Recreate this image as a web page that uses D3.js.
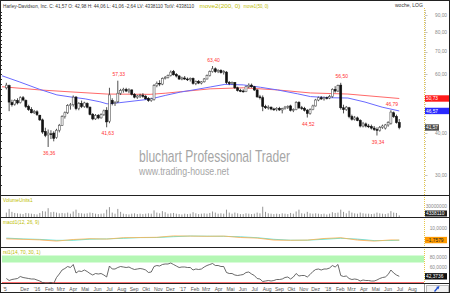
<!DOCTYPE html>
<html>
<head>
<meta charset="utf-8">
<script src="https://cdn.jsdelivr.net/npm/d3@7"></script>
<style>
  html, body { margin: 0; padding: 0; background: #fff; }
  svg { display: block; font-family: "Liberation Sans", Arial, sans-serif; }
</style>
</head>
<body>
<div id="chart"></div>
<script>
// weekly candles, first week starts Mon 2015-10-12
const firstWeek = "2015-10-12";
const opens = [54.6,55.4,49.3,48.8,50.0,49.3,51.0,50.0,48.0,47.0, 46.0,46.3,45.2,43.8,40.4,39.5,39.8,40.0,38.8,40.8,
  42.2,44.8,46.0,48.3,48.6,51.2,47.3,49.0,48.0,49.0, 47.8,45.5,44.1,45.2,44.4,45.4,46.8,43.4,50.0,49.0,
  49.6,52.6,53.6,54.0,53.4,53.8,52.2,51.2,51.6,51.9, 51.5,50.8,50.0,50.4,55.4,56.3,56.0,58.2,58.6,59.4,
  61.0,59.8,59.2,58.0,58.4,58.0,57.8,58.2,56.3,57.0, 56.4,56.9,58.0,59.4,61.0,62.2,61.0,61.5,60.6,60.8,
  56.6,56.2,56.6,54.6,53.6,53.4,53.2,55.0,55.6,55.0, 53.8,51.3,51.0,48.0,47.6,47.8,47.2,47.0,47.4,46.9,
  47.3,47.8,48.2,46.8,47.0,49.4,47.6,47.4,46.8,45.8, 47.0,48.2,50.2,51.0,50.6,51.0,50.9,51.4,54.0,53.4,
  55.6,47.6,47.0,47.6,44.8,44.0,44.4,43.6,42.0,42.6, 42.0,41.8,41.4,41.0,40.8,41.6,41.4,42.3,42.8,46.0,
  44.8,42.98];
const highs = [56.5,55.8,50.3,50.5,50.8,51.5,51.6,50.4,48.6,47.8, 46.9,46.8,45.4,44.2,41.5,41.0,40.8,40.5,41.2,42.6,
  45.2,46.4,48.8,49.2,51.8,51.6,49.5,50.0,49.6,49.4, 48.0,45.9,45.6,45.6,45.8,47.0,47.8,54.6,50.8,49.8,
  57.33,54.2,54.6,54.6,54.4,54.0,52.6,52.0,52.4,52.6, 52.0,51.2,51.0,56.0,57.0,57.5,58.6,59.2,59.8,61.5,
  61.7,60.4,59.6,58.9,59.2,58.6,58.6,58.6,57.4,57.6, 57.2,58.4,59.8,61.5,63.40,62.8,62.0,62.0,61.6,61.2,
  57.2,57.0,56.8,55.0,54.2,54.0,55.4,56.3,56.2,55.3, 54.0,52.0,51.8,48.6,48.4,48.0,47.6,47.8,47.9,47.6,
  48.2,48.4,48.6,47.4,49.8,49.8,48.2,47.9,47.2,47.4, 48.6,50.6,51.4,51.6,51.4,51.4,52.0,54.4,55.2,55.8,
  56.50,48.6,48.2,47.9,45.4,45.0,44.8,44.0,43.2,43.0, 42.6,42.4,42.0,41.6,42.0,42.4,42.6,43.4,46.79,46.4,
  45.4,44.06];
const lows = [54.0,46.5,48.0,48.3,48.7,49.0,49.8,47.5,46.6,45.8, 45.6,45.0,43.5,39.8,38.9,36.36,38.4,37.8,38.5,40.2,
  42.0,44.2,45.6,47.0,48.0,46.8,46.8,47.5,47.6,47.4, 45.2,43.7,43.8,44.0,44.2,45.0,41.63,42.8,48.4,48.2,
  49.2,52.0,52.8,53.0,52.6,51.8,50.8,50.6,50.9,51.0, 50.3,49.6,49.6,50.0,54.8,55.2,55.6,57.8,58.2,59.0,
  59.4,58.6,57.6,57.5,57.6,57.2,57.0,55.8,55.6,56.0, 55.9,56.6,57.8,59.0,60.6,60.5,60.4,60.2,59.8,56.0,
  55.6,55.8,54.2,53.2,53.0,52.8,53.0,54.4,54.6,53.4, 51.0,50.4,46.5,47.2,47.0,46.8,46.6,46.5,46.6,45.8,
  47.0,47.2,46.4,46.2,46.8,47.2,46.9,46.4,44.52,45.4, 46.8,48.0,49.8,50.2,50.0,50.4,50.5,51.0,52.8,53.0,
  47.0,45.8,46.6,44.3,43.6,43.6,43.4,41.6,41.6,41.6, 41.4,41.0,40.6,39.34,40.4,41.2,41.0,41.8,42.4,44.4,
  42.7,41.06];
const closes = [55.6,49.5,48.6,50.0,49.2,51.0,50.2,48.0,47.0,46.0, 46.4,45.4,43.8,40.3,39.4,40.0,39.6,38.6,40.8,42.2,
  44.8,46.0,48.3,48.6,51.2,47.3,49.0,48.0,49.2,47.8, 45.5,44.1,45.2,44.4,45.4,46.6,43.2,52.0,49.0,49.4,
  52.6,53.6,54.0,53.4,53.8,52.2,51.2,51.6,51.9,51.5, 50.6,50.0,50.6,55.4,56.3,56.0,58.2,58.6,59.4,60.8,
  59.7,59.2,58.0,58.4,58.0,57.8,58.2,56.3,57.0,56.4, 56.9,58.0,59.4,61.0,62.2,61.0,61.5,60.6,61.0,56.6,
  56.2,56.6,54.6,53.6,53.4,53.2,55.0,55.6,55.0,53.8, 51.3,51.0,48.0,47.6,47.8,47.2,47.0,47.4,46.9,47.3,
  47.8,48.0,46.8,47.0,49.4,47.6,47.4,46.8,45.8,47.0, 48.2,50.2,51.0,50.6,51.0,50.9,51.4,54.0,53.4,55.4,
  47.6,47.0,47.8,44.8,44.0,44.4,43.6,42.0,42.6,42.0, 41.8,41.4,41.0,40.8,41.6,42.0,42.3,43.0,46.2,44.8,
  43.0,41.57];
// weekly volume, millions of shares
const volumes = [12,22,14,11,10,9,8,11,10,9, 8,7,11,16,15,24,13,14,12,10, 11,10,12,9,15,20,11,10,9,10,
  12,11,9,8,9,10,20,27,12,9, 22,14,9,8,7,9,10,8,9,8, 9,10,9,18,12,10,16,13,9,10,
  11,9,8,7,9,8,9,13,10,8, 9,10,9,11,15,12,9,10,9,20, 12,9,12,10,8,8,10,9,8,9,
  12,10,28,14,10,9,8,9,8,10, 9,8,11,9,15,20,10,9,14,10, 9,10,9,8,9,7,9,13,11,12,
  20,14,10,17,12,10,9,12,10,9, 9,8,9,12,10,9,8,10,16,12, 11,4.34];
const rsiValues = [38,34,36,37,38,42,40,39,38,37, 37,35,33,30,29,29,30,28,40,47,
  55,58,62,60,66,49,53,52,55,52, 48,45,48,47,48,45,41,63,57,57,
  60,62,61,60,61,58,56,57,58,57, 55,50,51,62,64,63,66,67,67,69,
  66,63,60,61,61,60,60,55,57,56, 57,61,64,66,68,64,64,62,62,50,
  48,48,45,44,45,46,50,51,47,44, 38,37,32,33,34,33,34,36,36,37,
  40,41,37,41,48,43,44,44,41,46, 52,56,57,55,57,57,59,64,61,66,
  44,42,43,38,36,37,36,33,35,34, 34,33,33,35,38,40,41,46,55,49,
  45,42.37];

// moving averages
const ma50Dates = ["2015-10-05","2015-11-19","2016-01-08","2016-02-20","2016-03-24","2016-05-01","2016-06-07",
  "2016-06-25","2016-07-27","2016-09-03","2016-10-11","2016-11-18","2016-12-26","2017-02-01","2017-03-11",
  "2017-04-17","2017-06-02","2017-07-15","2017-08-27","2017-10-16","2017-11-18","2018-01-06","2018-02-20",
  "2018-04-04","2018-05-17","2018-06-29"];
const ma50Values = [59.3,56.8,54.0,52.0,51.3,50.6,49.6,48.9,49.3,49.9,50.5,51.8,53.0,53.9,54.9,
  55.9,55.7,54.8,53.8,52.4,51.4,51.0,50.9,49.5,47.8,46.57];
const ma200Dates = ["2015-10-05","2016-01-08","2016-03-24","2016-06-25","2016-10-11","2016-11-18",
  "2017-03-11","2017-06-02","2017-08-27","2017-11-18","2018-02-20","2018-06-29"];
const ma200Values = [55.0,53.8,53.1,52.3,52.2,52.6,54.2,54.6,53.8,52.7,52.3,50.73];

// macd(12,26,9), sampled every 6 weeks
const macdWeeks = [0,6,12,18,24,30,36,42,48,54,60,66,72,78,84,90,96,102,108,114,120,126,132,138,141];
const macdValues = [-0.6,-1.0,-1.6,-2.8,-1.2,-0.4,-0.8,0.6,0.8,1.0,2.4,2.2,2.0,2.2,0.8,0.2,-1.8,-2.0,-1.8,-0.2,0.6,-1.8,-2.8,-1.6,-1.76];
const signalValues = [0.2,-0.6,-1.1,-2.0,-2.0,-0.9,-0.6,0.0,0.7,0.8,1.6,2.3,2.1,2.0,1.5,0.6,-1.0,-1.9,-1.9,-1.0,0.0,-0.8,-2.3,-2.2,-1.9];

// marked extremes (week index, kind)
const extremeWeeks = [15,36,40,74,108,120,133,138];
const extremeKinds = ["low","low","high","high","low","high","low","high"];

const priceTicks = [30,40,50,60,70,80,90];
const monthNames = ["'","Feb","Mrz","Apr","Mai","Jun","Jul","Aug","Sep","Okt","Nov","Dez"];
const firstAxisLabel = "'5";
const headerText = "Harley-Davidson, Inc. C: 41,57 O: 42,98 H: 44,06 L: 41,06 -2,64 LV: 4338110 TotV: 4338110";

const W = 450, H = 293;
const plotL = 2, plotR = 424;
const fmt2 = d3.format(".2f");
const de = v => fmt2(v).replace(".", ",");
const de4 = v => d3.format(".4f")(v).replace(".", ",");

const parse = d3.timeParse("%Y-%m-%d");
const weeks = d3.range(closes.length).map(i => d3.timeDay.offset(parse(firstWeek), 7 * i + 4));
const candles = weeks.map((d, i) => ({date: d, o: opens[i], h: highs[i], l: lows[i], c: closes[i], v: volumes[i], r: rsiValues[i]}));

const x = d3.scaleTime().domain([new Date(2016, 0, 1), new Date(2018, 0, 1)]).range([37, 328]);
const yP = d3.scaleLog().domain([30, 90]).range([175, 15]);
const yV = d3.scaleLinear().domain([0, 30e6]).range([217, 206]);
const yM = d3.scaleLinear().domain([0, 10]).range([238.3, 228.3]);
const yR = d3.scaleLinear().domain([30, 80]).range([282.5, 257.5]);

const svg = d3.select("#chart").append("svg").attr("width", W).attr("height", H);
svg.append("rect").attr("width", W).attr("height", H).attr("fill", "#fff");

const defs = svg.append("defs");
defs.append("clipPath").attr("id", "mainClip").append("rect").attr("x", plotL).attr("y", 2).attr("width", plotR - plotL).attr("height", 192);

// watermark
svg.append("text").attr("x", 139).attr("y", 162).attr("fill", "#a6a6a6").attr("font-size", 17)
  .attr("textLength", 151).attr("lengthAdjust", "spacingAndGlyphs").text("bluchart Professional Trader");
svg.append("text").attr("x", 139).attr("y", 175).attr("fill", "#a6a6a6").attr("font-size", 11)
  .attr("textLength", 90).attr("lengthAdjust", "spacingAndGlyphs").text("www.trading-house.net");

// main panel
const main = svg.append("g").attr("clip-path", "url(#mainClip)");
const maLine = d3.line().x(d => x(d[0])).y(d => yP(d[1]));
main.append("path").attr("d", maLine(ma200Dates.map((d, i) => [parse(d), ma200Values[i]])))
  .attr("fill", "none").attr("stroke", "#ff6a6a").attr("stroke-width", 1);
main.append("path").attr("d", maLine(ma50Dates.map((d, i) => [parse(d), ma50Values[i]])))
  .attr("fill", "none").attr("stroke", "#6a6aff").attr("stroke-width", 1);

const cg = main.selectAll("g.candle").data(candles).enter().append("g").attr("class", "candle");
cg.append("line")
  .attr("x1", d => x(d.date)).attr("x2", d => x(d.date))
  .attr("y1", d => yP(d.h)).attr("y2", d => yP(d.l))
  .attr("stroke", "#222").attr("stroke-width", 0.8);
cg.append("rect")
  .attr("x", d => x(d.date) - 1).attr("width", 2)
  .attr("y", d => yP(Math.max(d.o, d.c)))
  .attr("height", d => Math.max(0.8, Math.abs(yP(d.o) - yP(d.c))))
  .attr("fill", d => d.c >= d.o ? "#fff" : "#111")
  .attr("stroke", d => d.c >= d.o ? "#555" : "#111").attr("stroke-width", 0.6);

svg.selectAll("text.extreme").data(extremeWeeks).enter().append("text")
  .attr("class", "extreme")
  .attr("x", (w, i) => x(candles[w].date) + 1)
  .attr("y", (w, i) => extremeKinds[i] === "high" ? yP(candles[w].h) - 4.5 : yP(candles[w].l) + 8)
  .attr("text-anchor", "middle").attr("font-size", 5).attr("fill", "#ff3333")
  .text((w, i) => de(extremeKinds[i] === "high" ? candles[w].h : candles[w].l));

// header
svg.append("text").attr("x", 3).attr("y", 7.5).attr("font-size", 4.5).attr("fill", "#333")
  .attr("textLength", 191).attr("lengthAdjust", "spacingAndGlyphs").text(headerText);
svg.append("text").attr("x", 199.5).attr("y", 7.5).attr("font-size", 5).attr("fill", "#bdbd00")
  .attr("textLength", 41).attr("lengthAdjust", "spacingAndGlyphs").text("move2(200, 0)");
svg.append("text").attr("x", 243.5).attr("y", 7.5).attr("font-size", 5).attr("fill", "#bdbd00")
  .attr("textLength", 25).attr("lengthAdjust", "spacingAndGlyphs").text("move1(50, 0)");
svg.append("text").attr("x", 395).attr("y", 7).attr("font-size", 5).attr("fill", "#333").text("woche, LOG");

// left edge minor ticks
svg.selectAll("line.lt").data(d3.range(28, 98, 2)).enter().append("line")
  .attr("x1", 0).attr("x2", 2).attr("y1", d => Math.round(yP(d)) + 0.5).attr("y2", d => Math.round(yP(d)) + 0.5)
  .attr("stroke", "#333").attr("stroke-width", 1)
  .filter(d => yP(d) < 10 || yP(d) > 194).remove();

// right price axis
const axisX = plotR + 0.5;
[[8, 195], [197, 217], [219, 247], [249, 283]].forEach(([a, b]) => {
  svg.append("line").attr("x1", axisX).attr("x2", axisX).attr("y1", a).attr("y2", b)
    .attr("stroke", "#e6c84a").attr("stroke-dasharray", "1,1");
});
svg.selectAll("line.rt").data(d3.range(27, 98, 1)).enter().append("line")
  .attr("x1", axisX + 0.5).attr("x2", d => priceTicks.includes(d) ? axisX + 3 : axisX + 1.5)
  .attr("y1", d => Math.round(yP(d)) + 0.5).attr("y2", d => Math.round(yP(d)) + 0.5)
  .attr("stroke", "#999").attr("stroke-width", 0.6)
  .filter(d => yP(d) < 9 || yP(d) > 193).remove();
// the 50,00 label sits under the MA200 value box, so it is left out
svg.selectAll("text.pt").data(priceTicks.filter(d => d !== 50)).enter().append("text")
  .attr("x", 447).attr("y", d => yP(d) + 1.8).attr("text-anchor", "end")
  .attr("font-size", 4.8).attr("fill", "#888").text(d => de(d));

function valueBox(y, w, fill, txt) {
  svg.append("rect").attr("x", plotR + 1).attr("y", y - 3.2).attr("width", w).attr("height", 6.4).attr("fill", fill);
  svg.append("text").attr("x", plotR + 2).attr("y", y + 1.8).attr("font-size", 4.8).attr("fill", "#fff").text(txt);
}
valueBox(yP(ma200Values[ma200Values.length - 1]), 24, "#ff1a1a", de(ma200Values[ma200Values.length - 1]));
valueBox(yP(ma50Values[ma50Values.length - 1]), 24, "#2a2aff", de(ma50Values[ma50Values.length - 1]));
valueBox(yP(closes[closes.length - 1]), 14, "#505050", de(closes[closes.length - 1]));

// panel separators
[195.5, 217.5, 247.5, 283.5].forEach(y => {
  svg.append("line").attr("x1", 0).attr("x2", W).attr("y1", y).attr("y2", y).attr("stroke", "#222").attr("stroke-width", 1.2);
});

// volume
svg.append("text").attr("x", 3).attr("y", 201.5).attr("font-size", 4.8).attr("fill", "#bdbd00").text("VolumeUnits1");
svg.selectAll("line.vol").data(candles).enter().append("line")
  .attr("x1", d => x(d.date)).attr("x2", d => x(d.date))
  .attr("y1", yV(0)).attr("y2", d => yV(d.v * 1e6))
  .attr("stroke", "#8a8a8a").attr("stroke-width", 0.9);
svg.append("text").attr("x", 447).attr("y", yV(30e6) + 1.8).attr("text-anchor", "end")
  .attr("font-size", 4.8).attr("fill", "#888").text("30000000");
svg.append("rect").attr("x", plotR + 1).attr("y", 210.5).attr("width", 22).attr("height", 6).attr("fill", "#222");
svg.append("text").attr("x", plotR + 2).attr("y", 215.3).attr("font-size", 4.8).attr("fill", "#fff").text("4338110");

// macd
svg.append("text").attr("x", 3).attr("y", 224).attr("font-size", 4.8).attr("fill", "#bdbd00").text("macd1(12, 26, 9)");
const mpts = macdWeeks.map((w, i) => ({x: x(candles[w].date), m: macdValues[i], s: signalValues[i]}));
for (let i = 0; i < mpts.length - 1; i++) {
  const a = mpts[i], b = mpts[i + 1];
  svg.append("path")
    .attr("d", `M${a.x},${yM(a.m)}L${b.x},${yM(b.m)}L${b.x},${yM(b.s)}L${a.x},${yM(a.s)}Z`)
    .attr("fill", (a.m + b.m) >= (a.s + b.s) ? "#9ff0c8" : "#ffb4b4").attr("opacity", 0.9);
}
svg.append("path").attr("d", d3.line().x(d => d.x).y(d => yM(d.s))(mpts))
  .attr("fill", "none").attr("stroke", "#50e0d0").attr("stroke-width", 0.8);
svg.append("path").attr("d", d3.line().x(d => d.x).y(d => yM(d.m))(mpts))
  .attr("fill", "none").attr("stroke", "#ffb050").attr("stroke-width", 0.8);
svg.append("text").attr("x", 447).attr("y", yM(10) + 1.8).attr("text-anchor", "end")
  .attr("font-size", 4.8).attr("fill", "#888").text(de4(10));
svg.append("rect").attr("x", plotR + 1).attr("y", yM(-1.7579) - 3.2).attr("width", 22).attr("height", 6.4).attr("fill", "#ff9a00");
svg.append("text").attr("x", plotR + 2).attr("y", yM(-1.7579) + 1.8).attr("font-size", 4.8).attr("fill", "#222").text(de4(-1.7579));

// rsi
svg.append("text").attr("x", 3).attr("y", 253.5).attr("font-size", 4.8).attr("fill", "#bdbd00").text("rsi1(14, 70, 30, 1)");
svg.append("rect").attr("x", plotL).attr("y", yR(84)).attr("width", plotR - plotL).attr("height", yR(70) - yR(84)).attr("fill", "#b4f7b4");
svg.append("line").attr("x1", plotL).attr("x2", plotR).attr("y1", yR(30)).attr("y2", yR(30)).attr("stroke", "#ff7070").attr("stroke-width", 1);
svg.append("path").attr("d", d3.line().x(d => x(d.date)).y(d => yR(d.r))(candles))
  .attr("fill", "none").attr("stroke", "#444").attr("stroke-width", 0.8);
[80, 60].forEach(v => svg.append("text").attr("x", 447).attr("y", yR(v) + 1.8).attr("text-anchor", "end")
  .attr("font-size", 4.8).attr("fill", "#888").text(de4(v)));
svg.append("rect").attr("x", plotR + 1).attr("y", yR(42.3736) - 3.2).attr("width", 22).attr("height", 6.4).attr("fill", "#111");
svg.append("text").attr("x", plotR + 2).attr("y", yR(42.3736) + 1.8).attr("font-size", 4.8).attr("fill", "#fff").text(de4(42.3736));

// time axis
const months = d3.timeMonth.range(new Date(2015, 11, 1), new Date(2018, 8, 1));
svg.selectAll("text.mt").data(months).enter().append("text")
  .attr("x", d => x(d)).attr("y", 290.5).attr("text-anchor", "middle")
  .attr("font-size", 5).attr("fill", "#555")
  .text(d => d.getMonth() === 0 ? monthNames[0] + String(d.getFullYear()).slice(2) : monthNames[d.getMonth()]);
svg.append("text").attr("x", 5).attr("y", 290.5).attr("text-anchor", "middle")
  .attr("font-size", 5).attr("fill", "#555").text(firstAxisLabel);
svg.append("line").attr("x1", axisX).attr("x2", axisX).attr("y1", 284).attr("y2", H).attr("stroke", "#999");

// corner button
svg.append("rect").attr("x", 426.5).attr("y", 285.5).attr("width", 22).attr("height", 7).attr("fill", "#f2f2f2").attr("stroke", "#bbb");
svg.append("path").attr("d", "M434,291L437,287.5L436,287L439.5,286L438.5,289.5L438,288.5L435,292Z").attr("fill", "#2050d0");

// frame
svg.append("rect").attr("x", 0.5).attr("y", 0.5).attr("width", W - 1).attr("height", H - 1)
  .attr("fill", "none").attr("stroke", "#222");
</script>
</body>
</html>
